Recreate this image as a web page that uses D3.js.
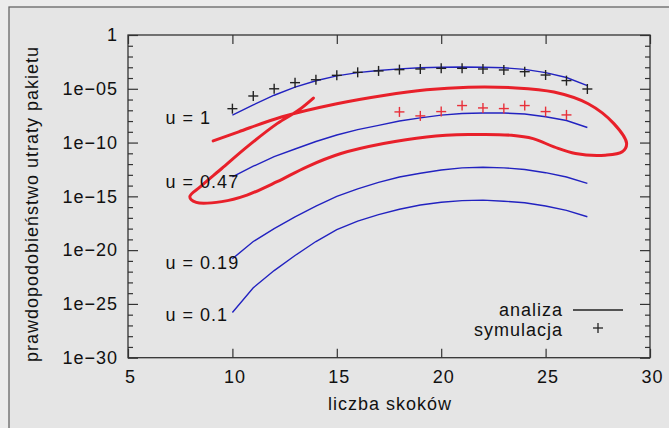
<!doctype html>
<html>
  <head>
    <meta charset="utf-8">
    <title>Prawdopodobieństwo utraty pakietu</title>
    <script src="https://cdnjs.cloudflare.com/ajax/libs/d3/7.8.5/d3.min.js"></script>
    <style>
      body { margin: 0; background: #ececec; }
      svg text { font-family: "Liberation Sans", Arial, sans-serif; font-size: 18px; letter-spacing: 1px; fill: #111; }
    </style>
  </head>
  <body>
    <div id="chart"></div>
    <script>
      // hop counts
      const hops = [10, 11, 12, 13, 14, 15, 16, 17, 18, 19, 20, 21, 22, 23, 24, 25, 26, 27];

      // analysis curves, log10 of loss probability
      const u1   = [-7.45, -6.5, -5.6, -4.85, -4.25, -3.8, -3.5, -3.3, -3.15, -3.05, -3.0, -2.97, -3.0, -3.05, -3.2, -3.5, -3.95, -4.7];
      const u047 = [-13.2, -12.2, -11.3, -10.6, -9.9, -9.3, -8.8, -8.4, -8.0, -7.7, -7.45, -7.3, -7.25, -7.25, -7.35, -7.6, -7.95, -8.6];
      const u019 = [-20.8, -19.2, -18.0, -16.9, -15.9, -15.0, -14.3, -13.7, -13.2, -12.85, -12.55, -12.35, -12.3, -12.35, -12.5, -12.8, -13.2, -13.8];
      const u01  = [-25.8, -23.5, -21.9, -20.5, -19.2, -18.1, -17.3, -16.7, -16.2, -15.8, -15.55, -15.4, -15.35, -15.45, -15.6, -15.9, -16.3, -16.9];

      // simulation points
      const simBlack = [-6.85, -5.67, -5.0, -4.43, -4.16, -3.75, -3.47, -3.34, -3.22, -3.16, -3.1, -3.1, -3.16, -3.25, -3.41, -3.72, -4.24, -5.02];
      const simRedHops = [18, 19, 20, 21, 22, 23, 24, 25, 26];
      const simRed = [-7.15, -7.52, -7.12, -6.56, -6.78, -6.84, -6.56, -7.12, -7.43];

      // curve labels
      const labelText = ['u = 1', 'u = 0.47', 'u = 0.19', 'u = 0.1'];
      const labelLog = [-8.27, -14.24, -21.76, -26.56];

      // hand drawn red marking (hops, log10)
      const markX = [9.08, 10.3, 12.35, 15, 17.24, 19.3, 21.3, 23.4, 25.4, 27.04, 28.27, 28.88, 28.67, 27.86, 26.43, 25.4, 24.4, 23.37, 21.3, 19.3, 17.24, 15.2, 13.57, 12.14, 10.7, 9.49, 8.27, 7.96, 8.47, 9.49, 10.7, 12.14, 13.16, 13.88];
      const markY = [-9.85, -9.0, -7.62, -6.39, -5.62, -5.09, -4.85, -4.9, -5.3, -6.39, -8.24, -10.09, -10.86, -11.17, -11.02, -10.4, -9.63, -9.32, -9.26, -9.48, -10.09, -11.02, -12.25, -13.64, -14.88, -15.49, -15.56, -15.03, -14.1, -12.41, -10.4, -8.24, -7.0, -5.86];

      // axis ticks
      const xTicks = [5, 10, 15, 20, 25, 30];
      const yTicks = [1, 1e-5, 1e-10, 1e-15, 1e-20, 1e-25, 1e-30];
      const yTickLabels = ['1', '1e\u221205', '1e\u221210', '1e\u221215', '1e\u221220', '1e\u221225', '1e\u221230'];

      const W = 669, H = 428;
      const mLeft = 128, mRight = 650, mTop = 35, mBottom = 357.7;

      const x = d3.scaleLinear().domain([5, 30]).range([mLeft, mRight]);
      const y = d3.scaleLog().domain([1e-30, 1]).range([mBottom, mTop]);

      const svg = d3.select('#chart').append('svg')
        .attr('width', W)
        .attr('height', H);

      // outer frame
      svg.append('rect')
        .attr('x', 9).attr('y', 7)
        .attr('width', 700).attr('height', 460)
        .attr('fill', '#e5e5e5')
        .attr('stroke', '#666')
        .attr('stroke-width', 1.3);

      // minor decades
      const yMinor = d3.range(-29, 0).filter(e => e % 5 != 0).map(e => Math.pow(10, e));

      svg.append('g')
        .attr('transform', `translate(0,${mBottom})`)
        .call(d3.axisBottom(x).tickValues(xTicks).tickSize(-9).tickPadding(13))
        .call(g => g.selectAll('text').attr('dx', 2));

      svg.append('g')
        .attr('transform', `translate(${mLeft},0)`)
        .call(d3.axisLeft(y).tickValues(yTicks).tickFormat((d, i) => yTickLabels[i]).tickSize(-10).tickPadding(10));

      svg.append('g')
        .attr('transform', `translate(0,${mTop})`)
        .call(d3.axisTop(x).tickValues(xTicks).tickSize(-9).tickFormat(''));

      svg.append('g')
        .attr('transform', `translate(${mRight},0)`)
        .call(d3.axisRight(y).tickValues(yTicks).tickSize(-10).tickFormat(''));

      svg.append('g')
        .attr('transform', `translate(${mLeft},0)`)
        .call(d3.axisLeft(y).tickValues(yMinor).tickSize(-5).tickFormat(''));

      svg.append('g')
        .attr('transform', `translate(${mRight},0)`)
        .call(d3.axisRight(y).tickValues(yMinor).tickSize(-5).tickFormat(''));

      svg.selectAll('.domain').remove();
      svg.selectAll('.tick line').attr('stroke', '#333').attr('stroke-width', 1.2);
      svg.selectAll('.tick text')
        .style('font-family', '"Liberation Sans", Arial, sans-serif')
        .style('font-size', '18px')
        .attr('fill', '#111');

      svg.append('rect')
        .attr('x', mLeft).attr('y', mTop)
        .attr('width', mRight - mLeft).attr('height', mBottom - mTop)
        .attr('fill', 'none')
        .attr('stroke', '#333')
        .attr('stroke-width', 1.3);

      // analysis lines
      const line = d3.line()
        .x(d => x(d[0]))
        .y(d => y(Math.pow(10, d[1])));

      [u1, u047, u019, u01].forEach(series => {
        svg.append('path')
          .attr('d', line(hops.map((h, i) => [h, series[i]])))
          .attr('fill', 'none')
          .attr('stroke', '#2222c0')
          .attr('stroke-width', 1.4);
      });

      // simulation crosses
      function crosses(xs, ys, color) {
        const g = svg.append('g').attr('stroke', color).attr('stroke-width', 1.4);
        xs.forEach((h, i) => {
          const cx = x(h), cy = y(Math.pow(10, ys[i]));
          g.append('line').attr('x1', cx - 5).attr('x2', cx + 5).attr('y1', cy).attr('y2', cy);
          g.append('line').attr('x1', cx).attr('x2', cx).attr('y1', cy - 5).attr('y2', cy + 5);
        });
      }
      crosses(hops, simBlack, '#222');
      crosses(simRedHops, simRed, '#e8303a');

      // red hand drawn marking
      svg.append('path')
        .attr('d', d3.line().curve(d3.curveCatmullRom)
          .x(d => x(d[0]))
          .y(d => y(Math.pow(10, d[1])))(markX.map((v, i) => [v, markY[i]])))
        .attr('fill', 'none')
        .attr('stroke', '#e8202a')
        .attr('stroke-width', 3)
        .attr('stroke-linecap', 'round')
        .attr('stroke-linejoin', 'round');

      // curve labels
      svg.selectAll('.ulabel')
        .data(labelText)
        .join('text')
        .attr('class', 'ulabel')
        .attr('x', x(6.8))
        .attr('y', (d, i) => y(Math.pow(10, labelLog[i])))
        .text(d => d);

      // legend
      svg.append('text').attr('x', 563).attr('y', 315.5).attr('text-anchor', 'end').text('analiza');
      svg.append('text').attr('x', 563).attr('y', 335.8).attr('text-anchor', 'end').text('symulacja');
      svg.append('line')
        .attr('x1', 573).attr('x2', 623).attr('y1', 310).attr('y2', 310)
        .attr('stroke', '#222').attr('stroke-width', 1.3);
      svg.append('g').attr('stroke', '#222').attr('stroke-width', 1.3)
        .call(g => {
          g.append('line').attr('x1', 593).attr('x2', 603).attr('y1', 328).attr('y2', 328);
          g.append('line').attr('x1', 598).attr('x2', 598).attr('y1', 323).attr('y2', 333);
        });

      // axis titles
      svg.append('text')
        .attr('x', (mLeft + mRight) / 2 + 1)
        .attr('y', 410)
        .attr('text-anchor', 'middle')
        .text('liczba skoków');

      svg.append('text')
        .attr('transform', 'translate(37.5,204) rotate(-90)')
        .attr('text-anchor', 'middle')
        .text('prawdopodobieństwo utraty pakietu');
    </script>
  </body>
</html>
